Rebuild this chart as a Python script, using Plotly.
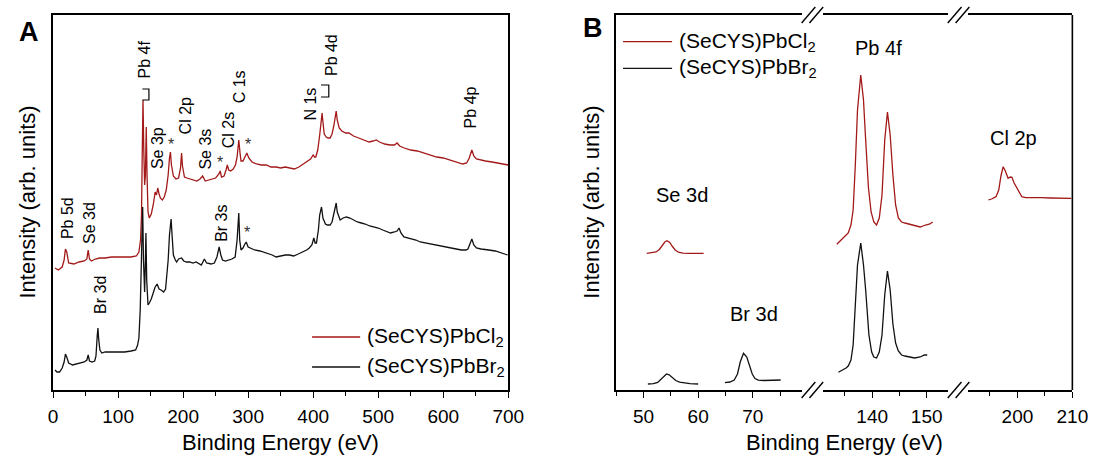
import plotly.graph_objects as go

# ---------------- survey spectra (panel A) ----------------
survey_cl_energy = [3, 8, 14, 17, 19, 21, 24, 32, 40, 48, 52, 54, 56, 59, 65, 72, 80, 90, 100, 110,
                    120, 128, 132, 134.5, 136, 137, 138.3, 139.5, 140.8, 142, 143.3, 144.5, 146, 148,
                    151, 154, 157, 159, 161, 163, 165, 168, 171, 174, 177, 179, 180.5, 182, 185, 189,
                    193, 196, 197.6, 199, 202, 206, 211, 216, 221, 226, 230, 234, 239, 245, 250, 255,
                    257, 259, 263, 266, 268, 270, 273, 277, 280.5, 283, 285.6, 287.5, 289, 292, 295,
                    298, 301, 306, 313, 320, 328, 335, 343, 350, 357, 364, 371, 378, 385, 391, 396,
                    400, 402, 404, 407, 410, 412, 413.7, 415, 417, 420, 423, 426, 429, 432, 434,
                    435.4, 437, 440, 444, 450, 455, 462, 470, 478, 486, 492, 497, 502, 510, 518, 525,
                    529, 533, 540, 550, 560, 570, 580, 590, 600, 610, 620, 630, 636, 640, 644, 647,
                    651, 657, 665, 675, 685, 693, 700]
survey_cl_counts = [122, 120, 123, 130, 141, 138, 127, 126, 128, 129, 131, 140, 131, 129, 131, 132,
                    132, 133, 133, 133, 133, 134, 138, 150, 175, 230, 290, 240, 205, 215, 263, 215,
                    178, 172, 176, 185, 198, 195, 202, 196, 192, 190, 193, 200, 215, 232, 238, 225,
                    214, 211, 212, 222, 237, 224, 213, 212, 211, 210, 209, 211, 214, 209, 210, 211,
                    212, 216, 219, 213, 214, 220, 225, 220, 219, 221, 225, 233, 250, 237, 229, 229,
                    233, 237, 232, 228, 226, 225, 225, 223, 223, 222, 223, 222, 221, 223, 226, 229,
                    231, 235, 233, 233, 240, 255, 270, 277, 268, 256, 253, 252, 252, 256, 265, 275,
                    279, 270, 262, 259, 257, 257, 254, 252, 250, 248, 249, 250, 248, 246, 245, 245,
                    247, 244, 242, 240, 239, 237, 235, 233, 232, 230, 228, 226, 227, 232, 240, 234,
                    231, 230, 229, 228, 227, 226, 225]

survey_br_energy = [3, 6, 10, 14, 17, 19, 21, 24, 30, 40, 48, 52, 54, 56, 60, 64, 66, 68, 69, 70,
                    72, 75, 80, 90, 100, 110, 120, 127, 130, 132, 134, 135.7, 137.8, 139, 140.8, 142,
                    142.8, 144, 146, 148, 151, 154, 157, 160, 163, 166, 170, 173, 175, 177, 179,
                    181.5, 183, 185, 188, 190, 193, 197.6, 201, 205, 210, 215, 220, 225, 228, 232.7,
                    236, 243, 248, 252, 255.4, 258, 260.5, 265, 270, 275, 280, 283, 285.6, 287, 289,
                    292, 295, 297, 300, 303, 310, 318, 323, 330, 337, 343, 350, 357, 363.5, 370, 377,
                    383.6, 390, 394, 398, 401, 403, 405, 408, 410, 412.8, 415, 418.8, 422, 426, 429,
                    432, 435.4, 437, 441.5, 446, 451, 456.5, 462, 468, 474, 480, 487, 494, 500, 507,
                    514, 519, 525, 529, 532, 535, 539.5, 545, 552, 558, 564.6, 572, 580, 590, 600,
                    610, 620, 628, 635, 638, 641, 644, 647, 651, 658, 665, 670, 680, 690, 699]
survey_br_counts = [20, 18, 18, 22, 28, 36, 33, 27, 25, 27, 28, 30, 35, 29, 28, 29, 34, 55, 62, 52,
                    40, 37, 38, 38, 38, 38, 39, 40, 45, 52, 80, 138, 183, 130, 98, 130, 157, 110, 85,
                    87, 91, 97, 103, 106, 101, 100, 98, 101, 115, 130, 155, 171, 155, 135, 130, 128,
                    131, 132, 129, 128, 128, 127, 128, 126, 125, 131, 127, 126, 127, 133, 143, 135,
                    130, 129, 130, 131, 133, 150, 177, 150, 140, 142, 146, 148, 143, 142, 140, 139,
                    138, 136, 135, 133, 134, 135, 135, 134, 136, 138, 140, 142, 145, 152, 147, 147,
                    160, 175, 183, 172, 166, 165, 165, 168, 176, 187, 178, 170, 172, 173, 172, 170,
                    168, 167, 166, 164, 163, 162, 160, 158, 157, 158, 159, 162, 157, 153, 152, 151,
                    150, 148, 147, 146, 145, 143, 142, 141, 140, 140, 141, 146, 151, 145, 142, 141,
                    140, 140, 139, 137, 135]

# ---------------- core-level spectra (panel B) ----------------
se3d_cl_energy = [50.6, 51.5, 52.3, 52.9, 53.4, 53.9, 54.3, 54.8, 55.3, 55.8, 56.4, 57.2, 58.5, 60.0, 61.0]
se3d_cl_counts = [136.7, 137.0, 138.0, 140.5, 144.5, 148.0, 149.2, 147.5, 143.5, 140.0, 137.8, 136.9,
                  136.7, 136.8, 136.7]

se3d_br_energy = [50.8, 51.8, 52.6, 53.2, 53.7, 54.2, 54.7, 55.3, 55.9, 56.6, 57.5, 58.5, 60.0]
se3d_br_counts = [6.0, 6.3, 7.5, 10.5, 14.0, 16.0, 15.2, 12.5, 9.5, 7.8, 6.8, 6.3, 6.0]

br3d_br_energy = [64.9, 65.8, 66.6, 67.2, 67.7, 68.3, 68.9, 69.4, 69.9, 70.4, 71.0, 72.0, 73.5, 75.1]
br3d_br_counts = [7.3, 8.0, 10.0, 16.0, 28.0, 36.7, 33.0, 25.0, 16.0, 11.5, 9.8, 9.5, 9.8, 10.0]

pb4f_cl_energy = [133.5, 134.3, 135.0, 135.6, 136.1, 136.5, 136.9, 137.3, 137.9, 138.4, 138.8, 139.3,
                  139.8, 140.3, 140.8, 141.3, 141.8, 142.3, 142.8, 143.3, 143.8, 144.3, 144.8, 145.4,
                  146.0, 146.8, 147.8, 148.8, 149.8, 150.6, 151.1]
pb4f_cl_counts = [145.7, 150, 153, 157, 165, 180, 225, 280, 315, 290, 250, 203, 178, 168, 165, 172,
                  195, 250, 278, 255, 215, 185, 172, 168, 167, 166, 164, 163, 165, 166, 168]

pb4f_br_energy = [133.8, 134.6, 135.2, 135.6, 136.1, 136.5, 136.9, 137.3, 137.9, 138.4, 138.8, 139.4,
                  139.9, 140.3, 140.8, 141.3, 141.8, 142.3, 142.8, 143.3, 143.8, 144.3, 144.8, 145.4,
                  146.0, 146.8, 147.8, 148.8, 149.6, 150.1]
pb4f_br_counts = [17.7, 20, 22, 24, 30, 45, 85, 125, 147, 125, 100, 55, 38, 33, 32, 38, 55, 95, 119,
                  100, 66, 47, 39, 35, 34, 33, 32, 33, 35, 35]

cl2p_cl_energy = [194.7, 195.3, 196.1, 196.6, 197.0, 197.4, 197.8, 198.3, 198.7, 199.0, 199.4, 199.9,
                  200.4, 200.8, 201.5, 202.5, 204.4, 206.0, 208.0, 209.8]
cl2p_cl_counts = [190, 191, 193.3, 200, 214, 223.3, 219, 211.7, 213, 212.7, 207, 201.7, 196, 193.3,
                  192.3, 192.5, 192.3, 192, 191.8, 191.7]

# peak labels: (text, energy, intensity)
survey_labels = [("Pb 5d", 21.6, 172), ("Se 3d", 56, 167.5), ("Br 3d", 72, 95),
                 ("Pb 4f", 142, 331), ("Se 3p", 160, 242), ("Cl 2p", 205, 274),
                 ("Se 3s", 233, 241), ("Cl 2s", 269.5, 260), ("C 1s", 288, 303),
                 ("Br 3s", 258, 167), ("N 1s", 396, 286), ("Pb 4d", 429, 335),
                 ("Pb 4p", 642.5, 282.5)]
survey_stars = [(181.5, 246), (257, 227.7), (299, 246), (298, 158)]
survey_brackets = [(137.3, 147.4, 290, 301), (412, 424, 293, 305)]

core_labels = [("Se 3d", "x2", 57, 195), ("Br 3d", "x2", 70.3, 76),
               ("Pb 4f", "x3", 141.1, 342), ("Cl 2p", "x4", 199.3, 252)]

series_names = ["(SeCYS)PbCl<sub>2</sub>", "(SeCYS)PbBr<sub>2</sub>"]

# ---------------- styling ----------------
W, H = 1107, 465
RED = "#a31919"
BLACK = "#111111"
FONT = "Liberation Sans, Arial, sans-serif"
LW = 1.3


def px(x):
    return x / W


def py(y):
    return 1 - y / H


fig = go.Figure()


def add_line(xs, ys, color, xa, ya):
    fig.add_trace(go.Scatter(x=xs, y=ys, mode="lines", line=dict(color=color, width=LW),
                             xaxis=xa, yaxis=ya, showlegend=False, hoverinfo="skip"))


add_line(survey_cl_energy, survey_cl_counts, RED, "x", "y")
add_line(survey_br_energy, survey_br_counts, BLACK, "x", "y")
add_line(se3d_cl_energy, se3d_cl_counts, RED, "x2", "y2")
add_line(se3d_br_energy, se3d_br_counts, BLACK, "x2", "y2")
add_line(br3d_br_energy, br3d_br_counts, BLACK, "x2", "y2")
add_line(pb4f_cl_energy, pb4f_cl_counts, RED, "x3", "y2")
add_line(pb4f_br_energy, pb4f_br_counts, BLACK, "x3", "y2")
add_line(cl2p_cl_energy, cl2p_cl_counts, RED, "x4", "y2")

tickfont = dict(family=FONT, size=19, color="black")
xcommon = dict(showline=True, linecolor="black", linewidth=1.6, mirror=True,
               ticks="outside", tickcolor="black", tickwidth=1.3, ticklen=6,
               showgrid=False, zeroline=False, tickfont=tickfont, tick0=0,
               ticklabelstandoff=2)
minor = dict(ticks="outside", ticklen=4, tickcolor="black", tickwidth=1.3, showgrid=False)
ydomain = [py(390), py(15)]
ycommon = dict(domain=ydomain, range=[0, 375], showticklabels=False, ticks="",
               showgrid=False, zeroline=False, showline=True, linecolor="black", linewidth=1.6)

fig.update_layout(
    width=W, height=H, margin=dict(l=0, r=0, t=0, b=0),
    paper_bgcolor="white", plot_bgcolor="white",
    font=dict(family=FONT, color="black"),
    xaxis=dict(domain=[px(49), px(513)], range=[0, 700], dtick=100,
               minor=dict(dtick=50, **minor), anchor="y", **xcommon),
    yaxis=dict(anchor="x", mirror=True, **ycommon),
    xaxis2=dict(domain=[px(623), px(812.4)], range=[45, 79], dtick=10,
                minor=dict(dtick=5, **minor), anchor="y2", **xcommon),
    xaxis3=dict(domain=[px(834), px(961.7)], range=[131, 154], dtick=10,
                minor=dict(dtick=5, **minor), anchor="y2", **xcommon),
    xaxis4=dict(domain=[px(981.6), px(1088)], range=[191, 210], dtick=10,
                minor=dict(dtick=5, **minor), anchor="y2", **xcommon),
    yaxis2=dict(anchor="x2", mirror=False, **ycommon),
)

shapes = []
annotations = []

# right edge of panel B frame
shapes.append(dict(type="line", xref="paper", yref="paper", x0=px(1088), x1=px(1088),
                   y0=py(390), y1=py(15), line=dict(color="black", width=1.6)))

# axis-break marks
for cx in (823, 972):
    for cy in (390, 15):
        for off in (-11, -3):
            shapes.append(dict(type="line", xref="paper", yref="paper",
                               x0=px(cx + off), y0=py(cy + 8), x1=px(cx + off + 14), y1=py(cy - 8),
                               line=dict(color="black", width=1.4)))

# doublet brackets in the survey
for x0, x1, y0, y1 in survey_brackets:
    shapes.append(dict(type="path", xref="x", yref="y",
                       path=f"M {x0},{y1} L {x1},{y1} L {x1},{y0} L {x0},{y0}",
                       line=dict(color="black", width=1.2)))

for text, e, i in survey_labels:
    annotations.append(dict(text=text, x=e, y=i, xref="x", yref="y", showarrow=False,
                            textangle=-90, xanchor="center", yanchor="middle",
                            font=dict(family=FONT, size=16, color="black")))
for e, i in survey_stars:
    annotations.append(dict(text="*", x=e, y=i, xref="x", yref="y", showarrow=False,
                            xanchor="center", yanchor="middle",
                            font=dict(family=FONT, size=16, color="#333333")))

for text, xa, e, i in core_labels:
    annotations.append(dict(text=text, x=e, y=i, xref=xa, yref="y2", showarrow=False,
                            xanchor="center", yanchor="middle",
                            font=dict(family=FONT, size=20, color="black")))

# legends
for (lx0, lx1, tx, ys) in ((313, 362, 367, (337, 367)), (630, 680, 685, (41.7, 68.3))):
    for name, color, yy in zip(series_names, (RED, BLACK), ys):
        shapes.append(dict(type="line", xref="paper", yref="paper", x0=px(lx0), x1=px(lx1),
                           y0=py(yy), y1=py(yy), line=dict(color=color, width=LW)))
        annotations.append(dict(text=name, x=px(tx), y=py(yy), xref="paper", yref="paper",
                                showarrow=False, xanchor="left", yanchor="middle",
                                font=dict(family=FONT, size=21, color="black")))

# panel letters and axis titles
for letter, lx, ly in (("A", 24, 32), ("B", 599, 28)):
    annotations.append(dict(text=f"<b>{letter}</b>", x=px(lx), y=py(ly), xref="paper", yref="paper",
                            showarrow=False, xanchor="center", yanchor="middle",
                            font=dict(family=FONT, size=27, color="black")))
for cx in (281, 856):
    annotations.append(dict(text="Binding Energy (eV)", x=px(cx), y=py(442), xref="paper",
                            yref="paper", showarrow=False, xanchor="center", yanchor="middle",
                            font=dict(family=FONT, size=22, color="black")))
for cx in (23, 598):
    annotations.append(dict(text="Intensity (arb. units)", x=px(cx), y=py(202), xref="paper",
                            yref="paper", showarrow=False, textangle=-90, xanchor="center",
                            yanchor="middle", font=dict(family=FONT, size=22, color="black")))

fig.update_layout(shapes=shapes, annotations=annotations)
fig.write_html("out.html")
